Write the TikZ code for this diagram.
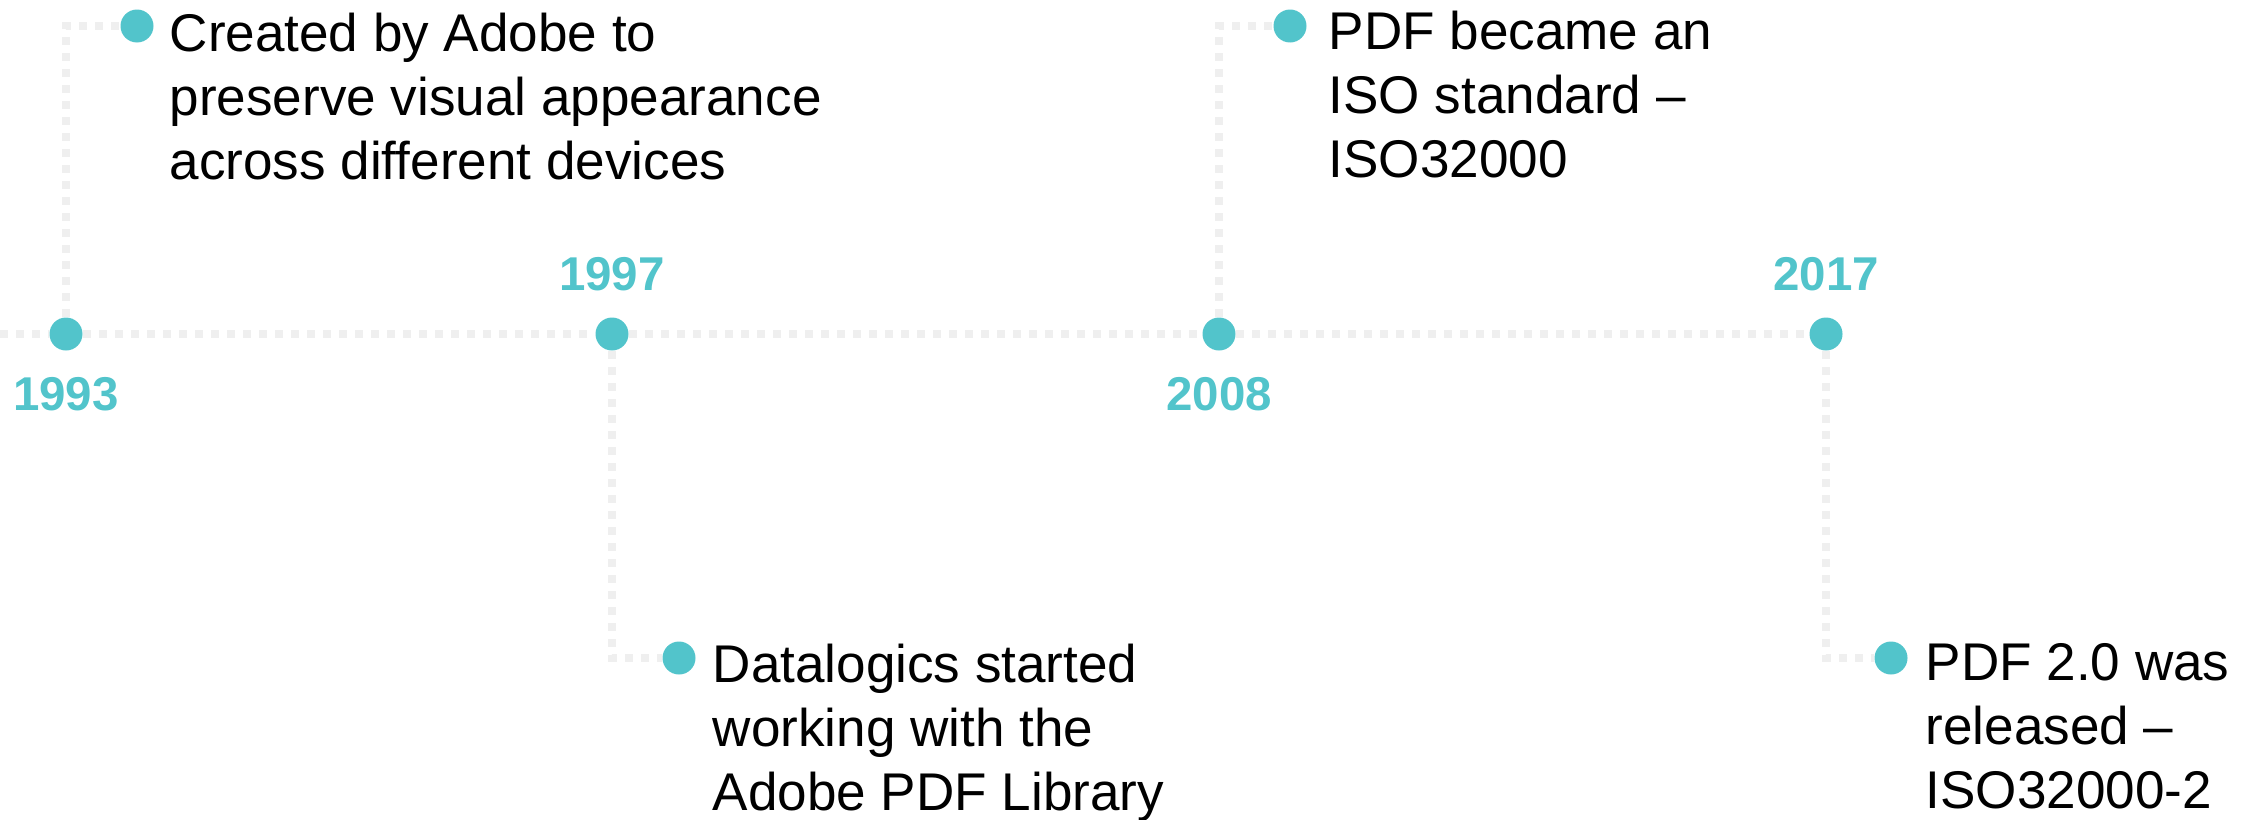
\documentclass[tikz,border=0pt]{standalone}
\usepackage{fontspec}
\setmainfont{Liberation Sans}
\usetikzlibrary{positioning}
\definecolor{pdfteal}{HTML}{52C4CB}
\definecolor{trackgray}{HTML}{EFEFEF}
\tikzset{
  dot/.style = {circle, fill=pdfteal, inner sep=0pt, minimum size=3.3mm},
  year/.style = {text=pdfteal, inner sep=0pt,
    font=\fontsize{13.5}{16}\selectfont\bfseries},
  note/.style = {anchor=north west, align=left, inner sep=0pt,
    font=\fontsize{15.1}{18.2}\selectfont},
  track/.style = {draw=trackgray, line width=0.8mm,
    dash pattern=on 0.8mm off 0.8mm}
}

\begin{document}
\begin{tikzpicture}[x=0.1mm, y=-0.1mm]
\useasboundingbox (0,0) rectangle (2259,819);
% dots on the time line
\coordinate (start) at (0,334);
\node [dot] (d1993) at (66,334) {};
\node [dot] (d1997) at (612,334) {};
\node [dot] (d2008) at (1219,334) {};
\node [dot] (d2017) at (1826,334) {};
% dots in front of the notes
\node [dot] (n1993) at (137,26) {};
\node [dot] (n1997) at (679,658) {};
\node [dot] (n2008) at (1290,26) {};
\node [dot] (n2017) at (1891,658) {};
% dotted tracks
\draw [track] (start) -- (d1993) -- (d1997) -- (d2008) -- (d2017);
\draw [track] (d1993) |- (n1993);
\draw [track] (d1997) |- (n1997);
\draw [track] (d2008) |- (n2008);
\draw [track] (d2017) |- (n2017);
% years
\node [year, below=2.5mm of d1993] (y1993) {1993};
\node [year, above=2.5mm of d1997] (y1997) {1997};
\node [year, below=2.5mm of d2008] (y2008) {2008};
\node [year, above=2.5mm of d2017] (y2017) {2017};
% notes
\node [note] (t1993) at (169,12) {Created by Adobe to\\preserve visual appearance\\across different devices};
\node [note] (t1997) at (712,643) {Datalogics started\\working with the\\Adobe PDF Library};
\node [note] (t2008) at (1328,10) {PDF became an\\ISO standard --\\ISO32000};
\node [note] (t2017) at (1925,643) {PDF 2.0 was\\released --\\ISO32000-2};
\end{tikzpicture}
\end{document}
